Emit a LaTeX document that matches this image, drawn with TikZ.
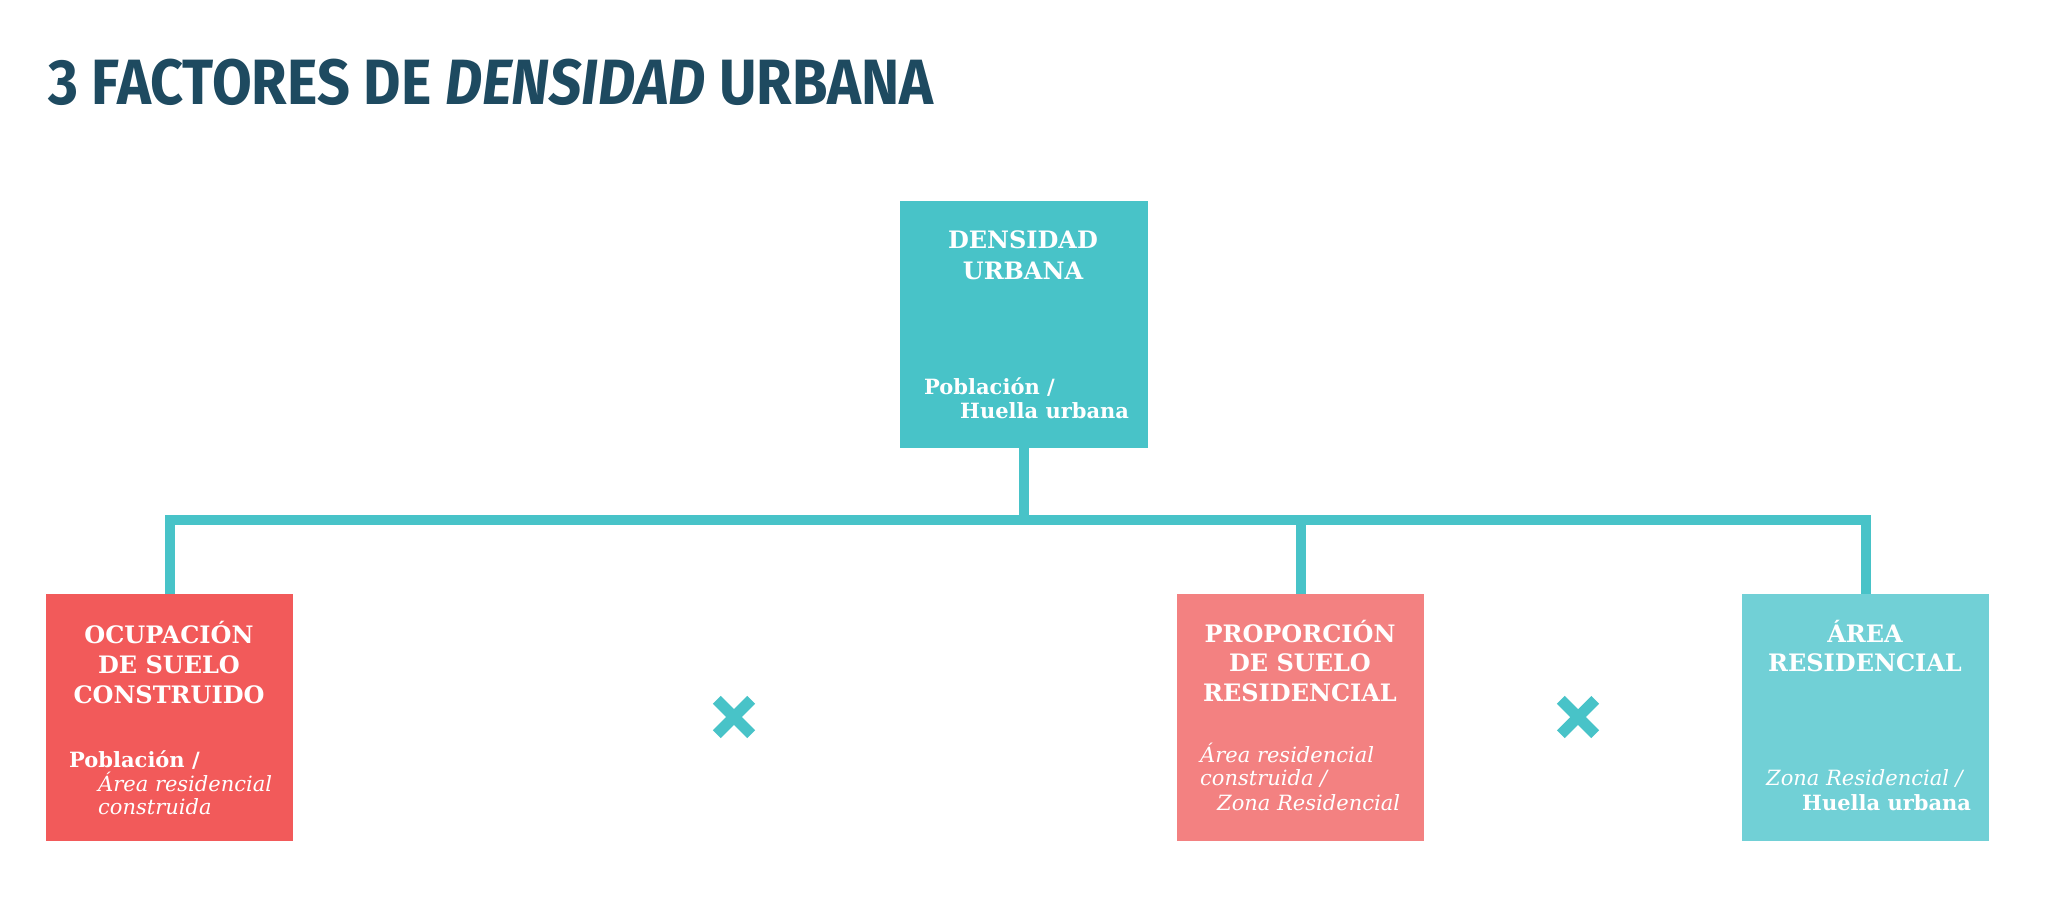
\documentclass[tikz,border=0pt]{standalone}
\usepackage{fontspec}
\setmainfont{DejaVu Serif}
\newfontfamily\titlefont[FakeStretch=0.9]{Fira Sans}
\definecolor{titleblue}{HTML}{1E4A60}
\definecolor{tealA}{HTML}{48C3C8}
\definecolor{redA}{HTML}{F25A5A}
\definecolor{pinkA}{HTML}{F38181}
\definecolor{tealB}{HTML}{71D0D6}
\tikzset{
  box/.style={inner sep=0pt, minimum width=247pt, minimum height=247pt},
  head/.style={anchor=base, inner sep=0pt, text=white, font=\fontsize{24}{30}\selectfont\bfseries},
  bodyb/.style={anchor=base west, inner sep=0pt, text=white, font=\fontsize{21}{24}\selectfont\bfseries},
  bodyi/.style={anchor=base west, inner sep=0pt, text=white, font=\fontsize{21}{24}\selectfont\itshape},
  conn/.style={draw=tealA, line width=10pt},
  crossline/.style={draw=tealA, line width=11pt, line cap=butt},
  crossbox/.style={inner sep=0pt, minimum size=34pt}
}
\begin{document}
\begin{tikzpicture}[x=1pt,y=-1pt]
\useasboundingbox[fill=white] (0,0) rectangle (2048,914);
% title
\node[anchor=base west, inner sep=0pt, text=titleblue, font=\titlefont\fontsize{64}{70}\selectfont\bfseries] (title) at (48,104) {3 FACTORES DE \textit{DENSIDAD} URBANA};
% boxes
\node[box, fill=tealA, minimum width=248pt] (c) at (1024,324.5) {};
\node[box, fill=redA] (o) at (169.5,717.5) {};
\node[box, fill=pinkA] (p) at (1300.5,717.5) {};
\node[box, fill=tealB] (a) at (1865.5,717.5) {};
% connectors
\coordinate (bus) at (0,520);
\draw[conn] (c.south) -- (c.south |- bus);
\draw[conn] (o.north) -- (o.north |- bus) -- (a.north |- bus) -- (a.north);
\draw[conn] (p.north) -- (p.north |- bus);
% crosses
\node[crossbox] (x1) at (734,717) {};
\draw[crossline] (x1.north west) -- (x1.south east);
\draw[crossline] (x1.north east) -- (x1.south west);
\node[crossbox] (x2) at (1578,717) {};
\draw[crossline] (x2.north west) -- (x2.south east);
\draw[crossline] (x2.north east) -- (x2.south west);
% center box text
\node[head] (c1) at (1023,248) {DENSIDAD};
\node[head] (c2) at (1023,279) {URBANA};
\node[bodyb] (cb1) at (924,394) {Población /};
\node[bodyb] (cb2) at (960,418) {Huella urbana};
% left box text
\node[head] (o1) at (169,643) {OCUPACIÓN};
\node[head] (o2) at (169,673) {DE SUELO};
\node[head] (o3) at (169,703) {CONSTRUIDO};
\node[bodyb] (ob1) at (69,767) {Población /};
\node[bodyi] (ob2) at (98,791) {Área residencial};
\node[bodyi] (ob3) at (98,814) {construida};
% proportion box text
\node[head] (p1) at (1300,642) {PROPORCIÓN};
\node[head] (p2) at (1300,671) {DE SUELO};
\node[head] (p3) at (1300,701) {RESIDENCIAL};
\node[bodyi] (pb1) at (1200,762) {Área residencial};
\node[bodyi] (pb2) at (1200,785) {construida /};
\node[bodyi] (pb3) at (1217,810) {Zona Residencial};
% area box text
\node[head] (a1) at (1865,642) {ÁREA};
\node[head] (a2) at (1865,671) {RESIDENCIAL};
\node[bodyi] (ab1) at (1766,785) {Zona Residencial /};
\node[bodyb] (ab2) at (1802,810) {Huella urbana};
\end{tikzpicture}
\end{document}
